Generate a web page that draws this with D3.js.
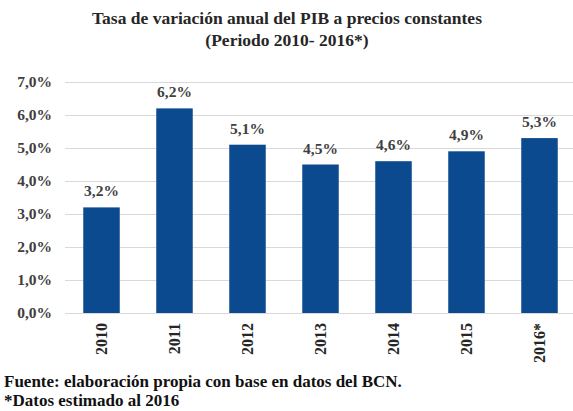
<!DOCTYPE html>
<html>
<head>
<meta charset="utf-8">
<script src="https://cdn.jsdelivr.net/npm/d3@7"></script>
</head>
<body style="margin:0">
<svg id="chart" width="573" height="411"></svg>
<script>
var years = ["2010", "2011", "2012", "2013", "2014", "2015", "2016*"];
var growth = [3.2, 6.2, 5.1, 4.5, 4.6, 4.9, 5.3];
var yTicks = [0, 1, 2, 3, 4, 5, 6, 7];
var titleLines = ["Tasa de variación anual del PIB a precios constantes", "(Periodo 2010- 2016*)"];
var notes = ["Fuente: elaboración propia con base en datos del BCN.", "*Datos estimado al 2016"];

var width = 573, height = 411;
var margin = {top: 82, left: 65, right: -3, bottom: 98};

var svg = d3.select("#chart");

var x = d3.scaleBand()
    .domain(years)
    .range([margin.left, width - margin.right])
    .paddingInner(0.5)
    .paddingOuter(0.25);

var y = d3.scaleLinear()
    .domain([0, 7])
    .range([height - margin.bottom, margin.top]);

var pct = function(d) { return d.toFixed(1).replace(".", ",") + "%"; };

// title
svg.append("g").selectAll("text")
  .data(titleLines)
  .enter().append("text")
    .attr("x", 287)
    .attr("y", function(d, i) { return 24 + i * 22; })
    .attr("text-anchor", "middle")
    .attr("font-family", "Liberation Serif")
    .attr("font-weight", "bold")
    .attr("font-size", 17.5)
    .attr("fill", "#262626")
    .text(function(d) { return d; });

// gridlines + y labels
var yAxis = svg.append("g")
    .attr("transform", "translate(" + margin.left + ",0)")
    .call(d3.axisLeft(y)
        .tickValues(yTicks)
        .tickSize(-(width - margin.left))
        .tickPadding(13)
        .tickFormat(pct));
yAxis.attr("font-family", "Liberation Serif").attr("font-size", 15.5);
yAxis.select(".domain").remove();
yAxis.selectAll("line").attr("stroke", "#d9d9d9").attr("stroke-width", 1.2);
yAxis.selectAll("text")
    .attr("fill", "#404040")
    .attr("font-weight", "bold");

// bars
svg.append("g").selectAll("rect")
  .data(growth)
  .enter().append("rect")
    .attr("x", function(d, i) { return x(years[i]); })
    .attr("y", function(d) { return y(d); })
    .attr("width", x.bandwidth())
    .attr("height", function(d) { return y(0) - y(d); })
    .attr("fill", "#0b4a8f");

// value labels
svg.append("g").selectAll("text")
  .data(growth)
  .enter().append("text")
    .attr("x", function(d, i) { return x(years[i]) + x.bandwidth() / 2; })
    .attr("y", function(d) { return y(d) - 11; })
    .attr("text-anchor", "middle")
    .attr("font-family", "Liberation Serif")
    .attr("font-weight", "bold")
    .attr("font-size", 15.5)
    .attr("fill", "#404040")
    .text(pct);

// x labels, rotated
svg.append("g").selectAll("text")
  .data(years)
  .enter().append("text")
    .attr("transform", function(d) {
      return "translate(" + (x(d) + x.bandwidth() / 2 + 5) + "," + (y(0) + 10) + ") rotate(-90)";
    })
    .attr("text-anchor", "end")
    .attr("font-family", "Liberation Serif")
    .attr("font-weight", "bold")
    .attr("font-size", 16)
    .attr("fill", "#262626")
    .text(function(d) { return d; });

// footnotes
svg.append("g").selectAll("text")
  .data(notes)
  .enter().append("text")
    .attr("x", 4)
    .attr("y", function(d, i) { return 387 + i * 19; })
    .attr("font-family", "Liberation Serif")
    .attr("font-weight", "bold")
    .attr("font-size", 17)
    .attr("fill", "#111")
    .text(function(d) { return d; });
</script>
</body>
</html>
